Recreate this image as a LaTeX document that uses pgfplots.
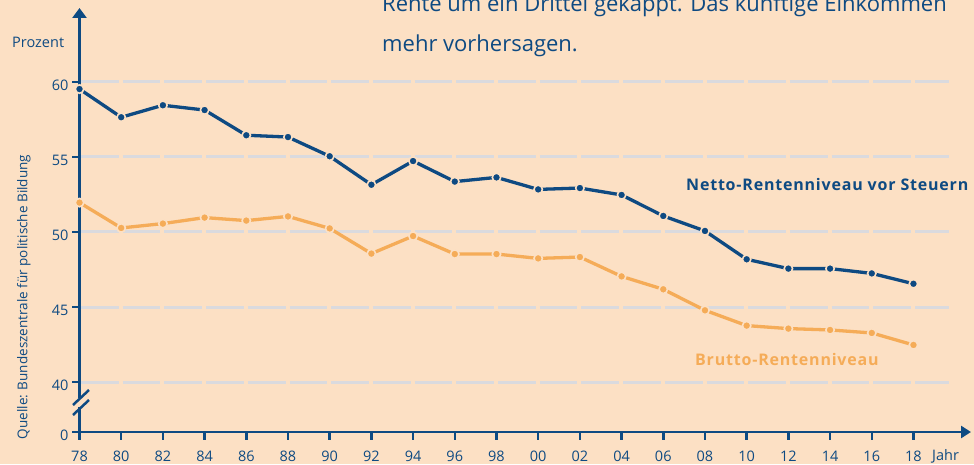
\documentclass[border=0pt]{standalone}
\usepackage{pgfplots}
\pgfplotsset{compat=1.18}
\usepackage{fontspec}
\setmainfont{Open Sans}
\usetikzlibrary{arrows.meta}
\definecolor{bg}{RGB}{252,224,196}
\definecolor{bblue}{RGB}{14,74,130}
\definecolor{borange}{RGB}{245,172,88}
\definecolor{gridc}{RGB}{218,218,222}
\begin{document}
\begin{tikzpicture}
\useasboundingbox (0pt,0pt) rectangle (974pt,464pt);
\clip (0pt,0pt) rectangle (974pt,464pt);
\fill[bg] (0pt,0pt) rectangle (974pt,464pt);
% top text (cut)
\node[anchor=base west, inner sep=0, text=bblue, font=\fontsize{22}{26}\selectfont] at (382pt,452pt) {Rente um ein Drittel gekappt. Das künftige Einkommen};
\node[anchor=base west, inner sep=0, text=bblue, font=\fontsize{22}{26}\selectfont] at (382pt,412pt) {mehr vorhersagen.};
\begin{axis}[
  at={(79.5pt,32pt)}, anchor=south west,
  scale only axis, width=891.5pt, height=424pt,
  xmin=1978, xmax=2020.76, ymin=36.6667, ymax=64.933,
  clip=false,
  axis lines=left,
  axis line style={draw=bblue, line width=2.8pt},
  every outer x axis line/.append style={-{Triangle[width=12pt,length=10pt]}},
  every outer y axis line/.append style={-{Triangle[width=14pt,length=10pt]}},
  xtick={1978,1980,...,2018},
  xticklabels={78,80,82,84,86,88,90,92,94,96,98,00,02,04,06,08,10,12,14,16,18},
  ytick={36.6667,40,45,50,55,60},
  yticklabels={0,40,45,50,55,60},
  tick align=outside,
  major tick length=7.5pt,
  tick style={draw=bblue, line width=2.5pt},
  /pgf/number format/assume math mode=true,
  tick label style={text=bblue, font=\fontsize{14.5}{17}\selectfont},
  yticklabel style={yshift=-3pt},
  xticklabel style={yshift=-8pt},
]
\foreach \yy in {40,45,50,55,60}{
  \edef\tmp{\noexpand\draw[gridc, line width=3pt, dash pattern=on 37.7pt off 4pt, dash phase=-1.5pt] (axis cs:1978,\yy) -- (axis cs:2019.7,\yy);}
  \tmp
}
\addplot[bblue, line width=3.3pt, mark=*, mark size=4.2pt,
  mark options={draw=bg, line width=1.6pt, fill=bblue}] coordinates {
(1978,59.53) (1980,57.65) (1982,58.45) (1984,58.13) (1986,56.45) (1988,56.33)
(1990,55.05) (1992,53.15) (1994,54.73) (1996,53.36) (1998,53.64) (2000,52.84)
(2002,52.93) (2004,52.47) (2006,51.07) (2008,50.07) (2010,48.18) (2012,47.56)
(2014,47.56) (2016,47.24) (2018,46.55)};
\addplot[borange, line width=3.3pt, mark=*, mark size=4.2pt,
  mark options={draw=bg, line width=1.6pt, fill=borange}] coordinates {
(1978,51.96) (1980,50.27) (1982,50.56) (1984,50.96) (1986,50.76) (1988,51.04)
(1990,50.24) (1992,48.56) (1994,49.73) (1996,48.53) (1998,48.53) (2000,48.24)
(2002,48.33) (2004,47.04) (2006,46.18) (2008,44.78) (2010,43.76) (2012,43.56)
(2014,43.47) (2016,43.27) (2018,42.47)};
\end{axis}
% axis break
\fill[bg] (75pt,57pt) rectangle (85pt,66pt);
\draw[bblue, line width=2.5pt] (73pt,59pt) -- (89pt,74pt);
\draw[bblue, line width=2.5pt] (73pt,49pt) -- (89pt,64pt);
% labels
\node[anchor=base west, inner sep=0, text=bblue, font=\fontsize{14.5}{17}\selectfont] at (12pt,416pt) {Prozent};
\node[anchor=base west, inner sep=0, text=bblue, font=\fontsize{14.5}{17}\selectfont] at (932pt,4pt) {Jahr};
\node[anchor=base, inner sep=0, rotate=90, text=bblue, font=\fontsize{13.5}{15}\selectfont] at (27.5pt,167pt) {Quelle: Bundeszentrale für politische Bildung};
\node[anchor=base west, inner sep=0, text=bblue, font=\bfseries\fontsize{16}{19}\selectfont\addfontfeature{LetterSpace=5}] at (686pt,273pt) {Netto-Rentenniveau vor Steuern};
\node[anchor=base west, inner sep=0, text=borange, font=\bfseries\fontsize{16}{19}\selectfont\addfontfeature{LetterSpace=5}] at (695pt,99pt) {Brutto-Rentenniveau};
\end{tikzpicture}
\end{document}
